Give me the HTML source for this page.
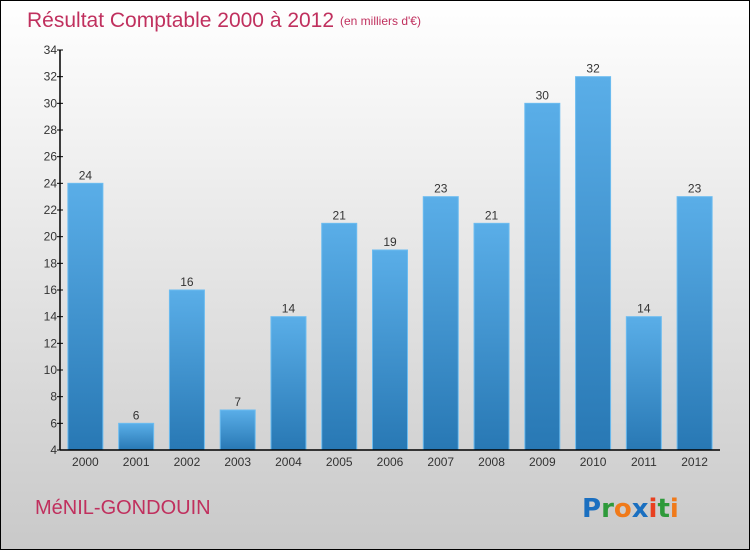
<!DOCTYPE html>
<html><head><meta charset="utf-8"><style>
body{margin:0;width:750px;height:550px;overflow:hidden;font-family:"Liberation Sans",sans-serif}
#wrap{position:absolute;left:0;top:0;width:748px;height:548px;border:1px solid #000;background:linear-gradient(#ffffff,#c9c9c9)}
</style></head><body>
<div id="wrap">
<svg id="chart" width="750" height="550" style="position:absolute;left:-1px;top:-1px">
<defs><linearGradient id="bg" x1="0" y1="0" x2="0" y2="1"><stop offset="0" stop-color="#5aaee8"/><stop offset="1" stop-color="#2878b4"/></linearGradient></defs>
<text x="27" y="27" font-size="21" fill="#c0305e">Résultat Comptable 2000 à 2012</text>
<text x="340" y="25" font-size="12" fill="#c0305e">(en milliers d'€)</text>
<text x="35" y="514" font-size="20" fill="#c0305e">MéNIL-GONDOUIN</text>
<g font-size="26" font-weight="bold" font-family="'DejaVu Sans',sans-serif">
<text x="582" y="517"><tspan fill="#1a6fc0">P</tspan><tspan fill="#2e9a3a">r</tspan><tspan fill="#f07a1a">o</tspan><tspan fill="#1a6fc0">x</tspan><tspan fill="#e84020">i</tspan><tspan fill="#2e9a3a">t</tspan><tspan fill="#f07a1a">i</tspan></text></g>
<g id="plot"></g>
</svg></div>
<script>
const categories=["2000","2001","2002","2003","2004","2005","2006","2007","2008","2009","2010","2011","2012"];
const values=[24,6,16,7,14,21,19,23,21,30,32,14,23];
const yTicks=[4,6,8,10,12,14,16,18,20,22,24,26,28,30,32,34];
const x0=60,x1=720,yTop=50,yBot=450,yMin=4,yMax=34;
const band=(x1-x0)/categories.length;
const y=v=>yBot-(v-yMin)/(yMax-yMin)*(yBot-yTop);
const xc=i=>x0+band*(i+0.5);
const NS="http://www.w3.org/2000/svg",g=document.getElementById('plot');
function mk(t,a,txt){const e=document.createElementNS(NS,t);for(const k in a)e.setAttribute(k,a[k]);if(txt!=null)e.textContent=txt;g.appendChild(e);return e;}
values.forEach((v,i)=>{
 const r=mk('rect',{x:xc(i)-17.5,y:y(v),width:35,height:yBot-y(v),fill:'url(#bg)',stroke:'#6cbcf0','stroke-width':1});
 
 
 const t=mk('text',{x:xc(i),y:y(v)-4,'text-anchor':'middle','font-size':12,fill:'#333'},v);
 
 
 const c=mk('text',{x:xc(i),y:466,'text-anchor':'middle','font-size':12,fill:'#333'},categories[i]);
 
 
});
yTicks.forEach(v=>{
 const l=mk('line',{x1:x0-3,x2:x0+3,y1:y(v),y2:y(v),stroke:'#000'});
 
 
 const t=mk('text',{x:x0-3,y:y(v)+4,'text-anchor':'end','font-size':12,fill:'#333'},v);
 
 
});
const ya=mk('line',{x1:x0,x2:x0,y1:yTop,y2:yBot,stroke:'#000','stroke-width':1.5});


const xa=mk('line',{x1:x0,x2:x1,y1:yBot,y2:yBot,stroke:'#000','stroke-width':1.5});


</script>
</body></html>
